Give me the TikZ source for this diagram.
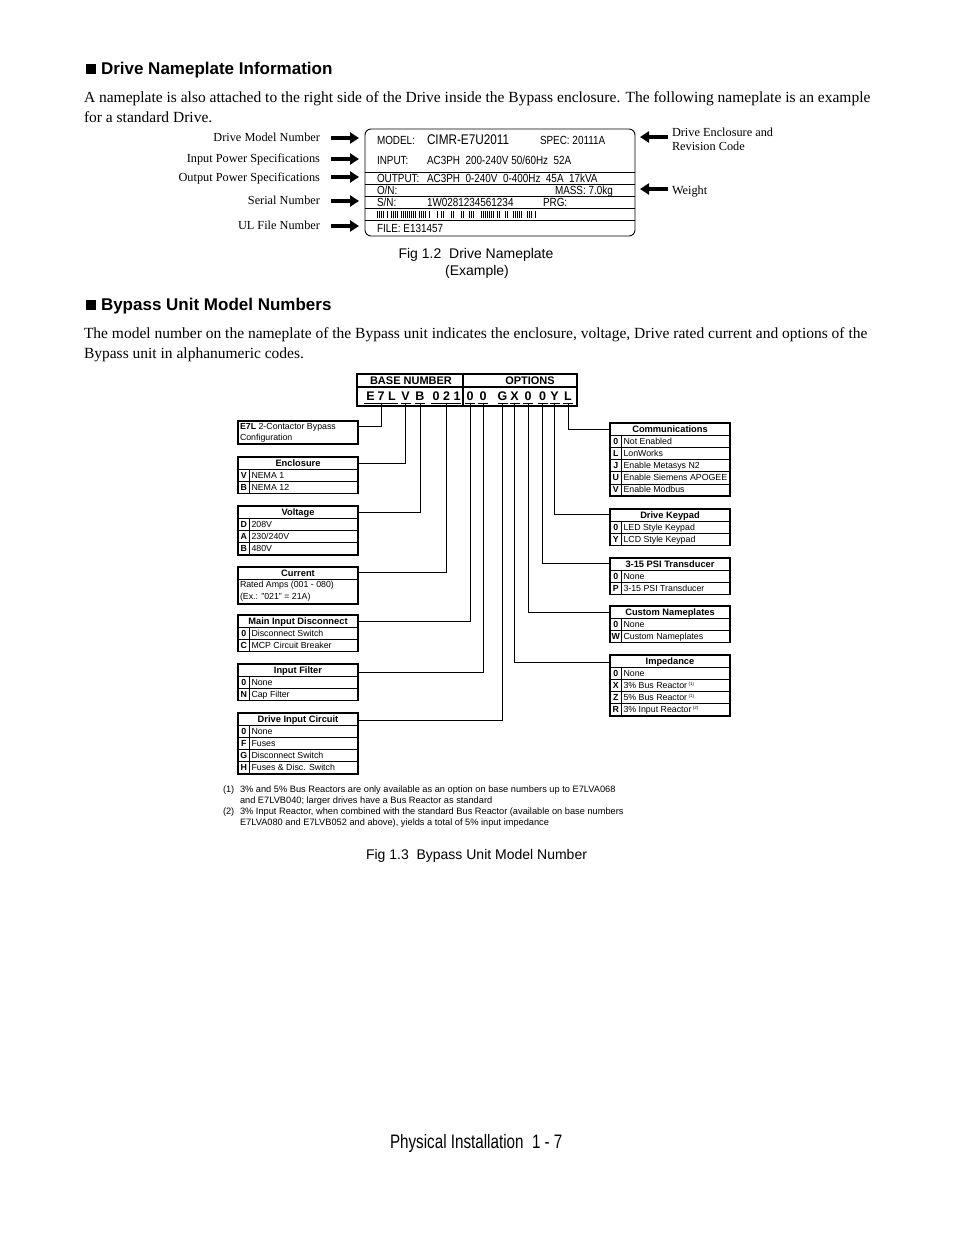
\documentclass[tikz,border=0pt]{standalone}
\usepackage{fontspec}
\setmainfont{Liberation Serif}
\setsansfont{Liberation Sans}
\newfontfamily\platefont[FakeStretch=0.84]{Liberation Sans}
\newfontfamily\footfont[FakeStretch=0.78]{Liberation Sans}
\usetikzlibrary{arrows.meta}

\tikzset{
  every node/.style={inner sep=0pt, outer sep=0pt},
  head/.style={font=\sffamily\bfseries\fontsize{17}{20}\selectfont, anchor=mid west, yshift=-4pt},
  body/.style={font=\fontsize{15.5}{18}\selectfont, anchor=mid west, yshift=-4pt},
  lbl/.style={font=\fontsize{12.3}{14}\selectfont, yshift=-2.5pt},
  plate/.style={font=\platefont\fontsize{11.8}{14}\selectfont, anchor=mid west, yshift=-2pt},
  platebig/.style={font=\platefont\fontsize{14}{16}\selectfont, anchor=mid west, yshift=-2.5pt},
  figcap/.style={font=\sffamily\fontsize{14}{16}\selectfont, anchor=mid, yshift=-3pt},
  bigarrow/.style={line width=3.2pt, -{Triangle[length=9pt,width=11pt]}},
  platebox/.style={draw, line width=0.9pt, rounded corners=6pt},
  hdrbox/.style={draw, line width=1.6pt},
  hdrtxt/.style={font=\sffamily\bfseries\fontsize{11}{13}\selectfont, anchor=mid, yshift=-1pt},
  mchar/.style={font=\sffamily\bfseries\fontsize{12.5}{14}\selectfont, anchor=mid, yshift=-1.5pt},
  conn/.style={line width=0.9pt},
  boxframe/.style={draw, line width=1.6pt, minimum width=120pt},
  boxtitle/.style={font=\sffamily\bfseries\fontsize{9.3}{11}\selectfont, anchor=mid, yshift=-1pt},
  codetxt/.style={font=\sffamily\bfseries\fontsize{8.8}{10}\selectfont, anchor=mid, yshift=-0.5pt},
  celltxt/.style={font=\sffamily\fontsize{8.8}{10}\selectfont, anchor=mid west, yshift=-0.5pt},
  thinrule/.style={line width=0.7pt},
  foot/.style={font=\sffamily\fontsize{9.25}{11}\selectfont, anchor=mid west, yshift=-1pt},
  pagefoot/.style={font=\footfont\fontsize{19.5}{22}\selectfont, anchor=mid west, yshift=-4pt},
}

% box with title row and n data rows: name, x, ytop, title, n
\newcommand\codebox[5]{%
  \pgfmathsetmacro\bh{12.2*(#5+1)}%
  \node[boxframe, minimum height=\bh pt, anchor=north west] (#1) at (#2,#3) {};
  \node[boxtitle] (#1-t) at (#2+60,#3+6.2) {#4};
  \draw[line width=1.1pt] (#2,#3+12.2) -- (#2+120,#3+12.2);
  \draw[thinrule] (#2+11.5,#3+12.2) -- (#2+11.5,#3+\bh);
}
% data row: boxname, x, ytop, i, code, text
\newcommand\crow[6]{%
  \node[codetxt] (#1-c#4) at (#2+5.8,#3+12.2*#4+6.1) {#5};
  \node[celltxt] (#1-x#4) at (#2+13.5,#3+12.2*#4+6.1) {#6};
  \ifnum#4>1 \draw[thinrule] (#2,#3+12.2*#4) -- (#2+120,#3+12.2*#4);\fi
}
\newcommand\supnote[1]{\,{\fontsize{4.5}{5}\selectfont\raisebox{3pt}{(#1)}}}

\begin{document}
\begin{tikzpicture}[x=1pt,y=-1pt]
\useasboundingbox[fill=white] (0,0) rectangle (954,1235);

% ---------- Heading 1 ----------
\fill (86,63.5) rectangle (96,73.5);
\node[head] (h1) at (101,68) {Drive Nameplate Information};
\node[body] (p1a) at (84,96) {A nameplate is also attached to the right side of the Drive inside the Bypass enclosure. The following nameplate is an example};
\node[body] (p1b) at (84,116) {for a standard Drive.};

% ---------- Nameplate ----------
\node[platebox, minimum width=270pt, minimum height=107pt, anchor=north west] (plate) at (365,129) {};
\foreach \yy in {172,184,196,208,220} \draw[line width=0.8pt] (365,\yy) -- (635,\yy);
\node[plate] (pm) at (377,140) {MODEL:};
\node[platebig] (pmv) at (427,140) {CIMR-E7U2011};
\node[plate] (ps) at (540,140) {SPEC: 20111A};
\node[plate] (pi) at (377,160.5) {INPUT:};
\node[plate] (piv) at (427,160.5) {AC3PH\ \ 200-240V 50/60Hz\ \ 52A};
\node[plate] (po) at (377,178.5) {OUTPUT:};
\node[plate] (pov) at (427,178.5) {AC3PH\ \ 0-240V\ \ 0-400Hz\ \ 45A\ \ 17kVA};
\node[plate] (pon) at (377,190.5) {O/N:};
\node[plate] (pmass) at (555,190.5) {MASS: 7.0kg};
\node[plate] (psn) at (377,202.5) {S/N:};
\node[plate] (psnv) at (427,202.5) {1W0281234561234};
\node[plate] (pprg) at (543,202.5) {PRG:};
\node[plate] (pfile) at (377,228.5) {FILE: E131457};
\pgfmathsetseed{11}
\foreach \k in {0,...,81}{
  \pgfmathsetmacro\r{rnd}
  \ifdim\r pt>0.3pt \fill (377+2*\k,211) rectangle ++(1.2,7); \fi
}

% left labels and arrows
\node[lbl, anchor=mid east] (l1) at (320,137) {Drive Model Number};
\node[lbl, anchor=mid east] (l2) at (320,158) {Input Power Specifications};
\node[lbl, anchor=mid east] (l3) at (320,177) {Output Power Specifications};
\node[lbl, anchor=mid east] (l4) at (320,200) {Serial Number};
\node[lbl, anchor=mid east] (l5) at (320,225) {UL File Number};
\foreach \n/\yy in {1/138,2/159,3/177,4/201,5/226}{
  \coordinate (as\n) at (331,\yy);
  \coordinate (ae\n) at (359,\yy);
  \draw[bigarrow] (as\n) -- (ae\n);
}
% right labels and arrows
\node[lbl, anchor=mid west] (r1a) at (672,132) {Drive Enclosure and};
\node[lbl, anchor=mid west] (r1b) at (672,146) {Revision Code};
\node[lbl, anchor=mid west] (r2) at (672,190) {Weight};
\coordinate (bs1) at (668,137); \coordinate (be1) at (640,137);
\coordinate (bs2) at (668,189); \coordinate (be2) at (640,189);
\draw[bigarrow] (bs1) -- (be1);
\draw[bigarrow] (bs2) -- (be2);

\node[figcap] (cap1a) at (476,253) {Fig 1.2\ \ Drive Nameplate};
\node[figcap] (cap1b) at (477,270) {(Example)};

% ---------- Heading 2 ----------
\fill (86,299.5) rectangle (96,309.5);
\node[head] (h2) at (101,304) {Bypass Unit Model Numbers};
\node[body] (p2a) at (84,332) {The model number on the nameplate of the Bypass unit indicates the enclosure, voltage, Drive rated current and options of the};
\node[body] (p2b) at (84,352) {Bypass unit in alphanumeric codes.};

% ---------- Model number header ----------
\node[hdrbox, minimum width=220pt, minimum height=32pt, anchor=north west] (mh) at (357,374) {};
\draw[line width=1.2pt] (357,387) -- (577,387);
\draw[line width=1.2pt] (463,374) -- (463,406);
\node[hdrtxt] (bn) at (411,381) {BASE NUMBER};
\node[hdrtxt] (opt) at (530,381) {OPTIONS};
\foreach \n/\xx/\c in {1/370.5/E,2/381/7,3/392/L,4/405.5/V,5/420/B,6/436/0,7/446.5/2,8/457/1,
                       9/470/0,10/483/0,11/502.5/G,12/514.5/X,13/528/0,14/542.5/0,15/554.5/Y,16/568/L}
  \node[mchar] (ch\n) at (\xx,396.5) {\c};
% underline bars
\draw[conn] (364,403) -- (398,403);
\draw[conn] (400.5,403) -- (410.5,403);
\draw[conn] (415,403) -- (425,403);
\draw[conn] (431,403) -- (461,403);
\foreach \xx in {470,483,502.5,514.5,528,542.5,554.5,568}
  \draw[conn] (\xx-5,403) -- (\xx+5,403);
\foreach \n/\xx in {E7L/381,V/405.5,B/420,C/446,O1/470,O2/483,G/502.5,X/514.5,O3/528,O4/542.5,Y/554.5,L/568}
  \coordinate (t\n) at (\xx,403);

% ---------- Left boxes ----------
\node[boxframe, minimum height=23pt, anchor=north west] (e7l) at (238,421) {};
\node[celltxt] (e7la) at (240,427) {\textbf{E7L} 2-Contactor Bypass};
\node[celltxt] (e7lb) at (240,438) {Configuration};

\codebox{encl}{238}{457}{Enclosure}{2}
\crow{encl}{238}{457}{1}{V}{NEMA 1}
\crow{encl}{238}{457}{2}{B}{NEMA 12}

\codebox{volt}{238}{506}{Voltage}{3}
\crow{volt}{238}{506}{1}{D}{208V}
\crow{volt}{238}{506}{2}{A}{230/240V}
\crow{volt}{238}{506}{3}{B}{480V}

\node[boxframe, minimum height=37pt, anchor=north west] (curr) at (238,567) {};
\node[boxtitle] (curr-t) at (298,573.2) {Current};
\draw[line width=1.1pt] (238,579.2) -- (358,579.2);
\node[celltxt] (curra) at (240,585) {Rated Amps (001 - 080)};
\node[celltxt] (currb) at (240,597) {(Ex.: "021" = 21A)};

\codebox{mid}{238}{615}{Main Input Disconnect}{2}
\crow{mid}{238}{615}{1}{0}{Disconnect Switch}
\crow{mid}{238}{615}{2}{C}{MCP Circuit Breaker}

\codebox{inf}{238}{664}{Input Filter}{2}
\crow{inf}{238}{664}{1}{0}{None}
\crow{inf}{238}{664}{2}{N}{Cap Filter}

\codebox{dic}{238}{713}{Drive Input Circuit}{4}
\crow{dic}{238}{713}{1}{0}{None}
\crow{dic}{238}{713}{2}{F}{Fuses}
\crow{dic}{238}{713}{3}{G}{Disconnect Switch}
\crow{dic}{238}{713}{4}{H}{Fuses \& Disc. Switch}

% ---------- Right boxes ----------
\codebox{comm}{610}{423}{Communications}{5}
\crow{comm}{610}{423}{1}{0}{Not Enabled}
\crow{comm}{610}{423}{2}{L}{LonWorks}
\crow{comm}{610}{423}{3}{J}{Enable Metasys N2}
\crow{comm}{610}{423}{4}{U}{Enable Siemens APOGEE}
\crow{comm}{610}{423}{5}{V}{Enable Modbus}

\codebox{kp}{610}{509}{Drive Keypad}{2}
\crow{kp}{610}{509}{1}{0}{LED Style Keypad}
\crow{kp}{610}{509}{2}{Y}{LCD Style Keypad}

\codebox{psi}{610}{558}{3-15 PSI Transducer}{2}
\crow{psi}{610}{558}{1}{0}{None}
\crow{psi}{610}{558}{2}{P}{3-15 PSI Transducer}

\codebox{cn}{610}{606}{Custom Nameplates}{2}
\crow{cn}{610}{606}{1}{0}{None}
\crow{cn}{610}{606}{2}{W}{Custom Nameplates}

\codebox{imp}{610}{655}{Impedance}{4}
\crow{imp}{610}{655}{1}{0}{None}
\crow{imp}{610}{655}{2}{X}{3\% Bus Reactor\supnote{1}}
\crow{imp}{610}{655}{3}{Z}{5\% Bus Reactor\supnote{1}}
\crow{imp}{610}{655}{4}{R}{3\% Input Reactor\supnote{2}}

% ---------- Connectors ----------
\draw[conn] (tE7L) |- ([yshift=-5pt]e7l.north east);
\draw[conn] (tV) |- ([yshift=-6pt]encl.north east);
\draw[conn] (tB) |- ([yshift=-6pt]volt.north east);
\draw[conn] (tC) |- ([yshift=-5.5pt]curr.north east);
\draw[conn] (tO1) |- ([yshift=-6.5pt]mid.north east);
\draw[conn] (tO2) |- ([yshift=-8pt]inf.north east);
\draw[conn] (tG) |- ([yshift=-7.5pt]dic.north east);
\draw[conn] (tL) |- ([yshift=-6pt]comm.north west);
\draw[conn] (tY) |- ([yshift=-5pt]kp.north west);
\draw[conn] (tO4) |- ([yshift=-5.5pt]psi.north west);
\draw[conn] (tO3) |- ([yshift=-6.5pt]cn.north west);
\draw[conn] (tX) |- ([yshift=-7pt]imp.north west);

% ---------- Footnotes ----------
\node[foot] (f1n) at (223,789) {(1)};
\node[foot] (f1a) at (240,789) {3\% and 5\% Bus Reactors are only available as an option on base numbers up to E7LVA068};
\node[foot] (f1b) at (240,800) {and E7LVB040; larger drives have a Bus Reactor as standard};
\node[foot] (f2n) at (223,811) {(2)};
\node[foot] (f2a) at (240,811) {3\% Input Reactor, when combined with the standard Bus Reactor (available on base numbers};
\node[foot] (f2b) at (240,822) {E7LVA080 and E7LVB052 and above), yields a total of 5\% input impedance};

\node[figcap] (cap2) at (476.5,854) {Fig 1.3\ \ Bypass Unit Model Number};

\node[pagefoot] (pg) at (390,1142) {Physical Installation\ \ 1 - 7};
\end{tikzpicture}
\end{document}
